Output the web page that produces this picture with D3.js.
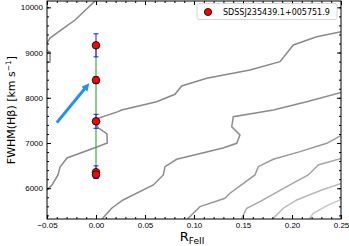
<!DOCTYPE html>
<html lang="en">
<head>
<meta charset="UTF-8">
<script src="https://cdn.jsdelivr.net/npm/d3@7/dist/d3.min.js"></script>
<style>
  body { margin: 0; background: #fff; }
  svg { display: block; font-family: "DejaVu Sans", sans-serif; }
  .tick text { font-size: 8px; fill: #000; }
  .contour { fill: none; stroke-width: 1.5px; }
</style>
</head>
<body>
<script>
// measured points (x = R_FeII, y = FWHM Hbeta)
var pointX = [0, 0, 0, 0, 0];
var pointY = [9160, 8390, 7480, 6355, 6300];
var pointErr = [255, 75, 155, 140, 70];
var legendLabel = "SDSSJ235439.1+005751.9";

// arrow tail and head
var arrowX = [-0.040, -0.0068];
var arrowY = [7450, 8320];

// background contours, darkest first
var contourA = [[0.001, 10180], [-0.0214, 9719], [-0.0316, 9564], [-0.0469, 9321], [-0.05, 9211],
  [-0.053, 9130], [-0.05, 9050], [-0.0469, 9010], [-0.0469, 8790], [-0.05, 8780], [-0.053, 8760]];
var contourB = [[0.252, 9470], [0.2252, 9350], [0.2013, 9167], [0.1878, 8798], [0.1571, 8614],
  [0.113, 8431], [0.0874, 8261], [0.0806, 8077], [0.0619, 7914], [0.0262, 7730], [0.0224, 7693],
  [0.0, 7531], [0.002, 7340], [0.0112, 7200], [0.0115, 7001], [0.001, 6913], [-0.0296, 6670],
  [-0.0367, 6470], [-0.0388, 6294], [-0.0449, 6073], [-0.053, 5900]];
var contourC = [[0.252, 8130], [0.215, 7914], [0.181, 7731], [0.1401, 7582], [0.1385, 7361],
  [0.1469, 7178], [0.1436, 6994], [0.1296, 6890], [0.0823, 6641], [0.0704, 6477], [0.0687, 6294],
  [0.0585, 6073], [0.0276, 5741], [0.016, 5558], [0.0071, 5343], [0.005, 5250]];
var contourD = [[0.252, 7190], [0.2354, 6994], [0.2082, 6809], [0.1809, 6641], [0.1656, 6477],
  [0.1622, 6294], [0.1367, 5890], [0.1316, 5779], [0.1061, 5593], [0.0942, 5337], [0.093, 5260]];
var contourE = [[0.252, 6670], [0.2268, 6515], [0.2166, 6294], [0.1946, 6035], [0.1673, 5704],
  [0.1538, 5558], [0.1487, 5337], [0.147, 5255]];
var contourF = [[0.252, 6120], [0.2303, 5962], [0.2048, 5741], [0.1911, 5558], [0.1793, 5299]];
var contourG = [[0.252, 5770], [0.2354, 5609], [0.2217, 5447], [0.2166, 5299]];
var contours = [contourA, contourB, contourC, contourD, contourE, contourF, contourG];
var contourColors = ["#8a8a8a", "#8a8a8a", "#8c8c8c", "#999999", "#a8a8a8", "#b8b8b8", "#c8c8c8"];

var width = 349, height = 246;
var margin = {left: 47, right: 8, top: 1, bottom: 27};

var svg = d3.select("body").append("svg")
    .attr("width", width)
    .attr("height", height);

var x = d3.scaleLinear().domain([-0.05, 0.25]).range([margin.left, width - margin.right]);
var y = d3.scaleLinear().domain([5320, 10140]).range([height - margin.bottom, margin.top]);

// plot box edges (window.top is reserved, so use own names)
var pBottom = y.range()[0], pTop = y.range()[1];
var pLeft = x.range()[0], pRight = x.range()[1];

svg.append("clipPath").attr("id", "plot")
  .append("rect")
    .attr("x", pLeft).attr("y", pTop)
    .attr("width", pRight - pLeft)
    .attr("height", pBottom - pTop);

var line = d3.line()
    .x(function(d) { return x(d[0]); })
    .y(function(d) { return y(d[1]); });

var plot = svg.append("g").attr("clip-path", "url(#plot)");

plot.selectAll(".contour")
    .data(contours)
  .enter().append("path")
    .attr("class", "contour")
    .attr("d", line)
    .attr("stroke", function(d, i) { return contourColors[i]; });

// arrow
var defs = svg.append("defs");
defs.append("marker")
    .attr("id", "head")
    .attr("viewBox", "0 0 10 10")
    .attr("refX", 4).attr("refY", 5)
    .attr("markerWidth", 2.6).attr("markerHeight", 2.6)
    .attr("orient", "auto")
  .append("path")
    .attr("d", "M0,0 L10,5 L0,10 z")
    .attr("fill", "#1e90ff");

plot.append("line")
    .attr("x1", x(arrowX[0])).attr("y1", y(arrowY[0]))
    .attr("x2", x(arrowX[1]) - 3).attr("y2", y(arrowY[1]) + 3.5)
    .attr("stroke", "#1e90ff")
    .attr("stroke-width", 3)
    .attr("marker-end", "url(#head)");

// green connecting line
var pts = pointX.map(function(v, i) { return [v, pointY[i]]; });
plot.append("path")
    .attr("d", line(pts))
    .attr("fill", "none")
    .attr("stroke", "#3cb043")
    .attr("stroke-width", 1.2);

// error bars
var err = plot.selectAll(".err")
    .data(pts)
  .enter().append("g")
    .attr("class", "err")
    .attr("stroke", "#1a1aff")
    .attr("stroke-width", 1);
err.append("line")
    .attr("x1", function(d) { return x(d[0]); })
    .attr("x2", function(d) { return x(d[0]); })
    .attr("y1", function(d, i) { return y(d[1] + pointErr[i]); })
    .attr("y2", function(d, i) { return y(d[1] - pointErr[i]); });
[1, -1].forEach(function(s) {
  err.append("line")
      .attr("x1", function(d) { return x(d[0]) - 2.5; })
      .attr("x2", function(d) { return x(d[0]) + 2.5; })
      .attr("y1", function(d, i) { return y(d[1] + s * pointErr[i]); })
      .attr("y2", function(d, i) { return y(d[1] + s * pointErr[i]); });
});

plot.selectAll(".pt")
    .data(pts)
  .enter().append("circle")
    .attr("class", "pt")
    .attr("cx", function(d) { return x(d[0]); })
    .attr("cy", function(d) { return y(d[1]); })
    .attr("r", 3.8)
    .attr("fill", "#ff0000")
    .attr("stroke", "#000")
    .attr("stroke-width", 0.8);

// axes, ticks pointing inward on all sides
function fmt(d) { return d3.format(".2f")(d).replace("-", "\u2212"); }
var xMajor = d3.range(-0.05, 0.2501, 0.05);
var xMinor = d3.range(-0.05, 0.2501, 0.01);
var yMajor = d3.range(6000, 10001, 1000);
var yMinor = d3.range(5400, 10140, 200);

function noDomain(g) { g.select(".domain").remove(); }

svg.append("g").attr("transform", "translate(0," + pBottom + ")")
    .call(d3.axisBottom(x).tickValues(xMinor).tickSize(-2).tickFormat(""))
    .call(noDomain);
svg.append("g").attr("transform", "translate(0," + pBottom + ")")
    .call(d3.axisBottom(x).tickValues(xMajor).tickSize(-4).tickPadding(3).tickFormat(fmt))
    .call(noDomain);
svg.append("g").attr("transform", "translate(0," + pTop + ")")
    .call(d3.axisTop(x).tickValues(xMinor).tickSize(-2).tickFormat(""))
    .call(noDomain);
svg.append("g").attr("transform", "translate(0," + pTop + ")")
    .call(d3.axisTop(x).tickValues(xMajor).tickSize(-4).tickFormat(""))
    .call(noDomain);

svg.append("g").attr("transform", "translate(" + pLeft + ",0)")
    .call(d3.axisLeft(y).tickValues(yMinor).tickSize(-2).tickFormat(""))
    .call(noDomain);
svg.append("g").attr("transform", "translate(" + pLeft + ",0)")
    .call(d3.axisLeft(y).tickValues(yMajor).tickSize(-4).tickPadding(4).tickFormat(d3.format("d")))
    .call(noDomain);
svg.append("g").attr("transform", "translate(" + pRight + ",0)")
    .call(d3.axisRight(y).tickValues(yMinor).tickSize(-2).tickFormat(""))
    .call(noDomain);
svg.append("g").attr("transform", "translate(" + pRight + ",0)")
    .call(d3.axisRight(y).tickValues(yMajor).tickSize(-4).tickFormat(""))
    .call(noDomain);

svg.append("rect")
    .attr("x", pLeft).attr("y", pTop)
    .attr("width", pRight - pLeft).attr("height", pBottom - pTop)
    .attr("fill", "none").attr("stroke", "#000").attr("stroke-width", 1);

// axis labels
var yl = svg.append("text")
    .attr("transform", "translate(15," + (pTop + pBottom) / 2 + ") rotate(-90)")
    .attr("text-anchor", "middle")
    .attr("font-size", 11);
yl.append("tspan").text("FWHM(H\u03b2) [km s");
yl.append("tspan").attr("font-size", 7.5).attr("dy", -4).text("\u22121");
yl.append("tspan").attr("dy", 4).text("]");

var xl = svg.append("text")
    .attr("x", (pLeft + pRight) / 2 - 2).attr("y", 241)
    .attr("text-anchor", "middle")
    .attr("font-size", 13);
xl.append("tspan").text("R");
xl.append("tspan").attr("font-size", 9).attr("dy", 3).text("FeII");

// legend
var lg = svg.append("g");
lg.append("rect")
    .attr("x", 197).attr("y", 3.5).attr("width", 140).attr("height", 16)
    .attr("rx", 2)
    .attr("fill", "#fff").attr("fill-opacity", 0.85)
    .attr("stroke", "#cccccc").attr("stroke-width", 0.8);
lg.append("circle")
    .attr("cx", 208).attr("cy", 12).attr("r", 3.6)
    .attr("fill", "#ff0000").attr("stroke", "#000").attr("stroke-width", 0.8);
lg.append("text")
    .attr("x", 223).attr("y", 15)
    .attr("font-size", 8)
    .text(legendLabel);
</script>
</body>
</html>
